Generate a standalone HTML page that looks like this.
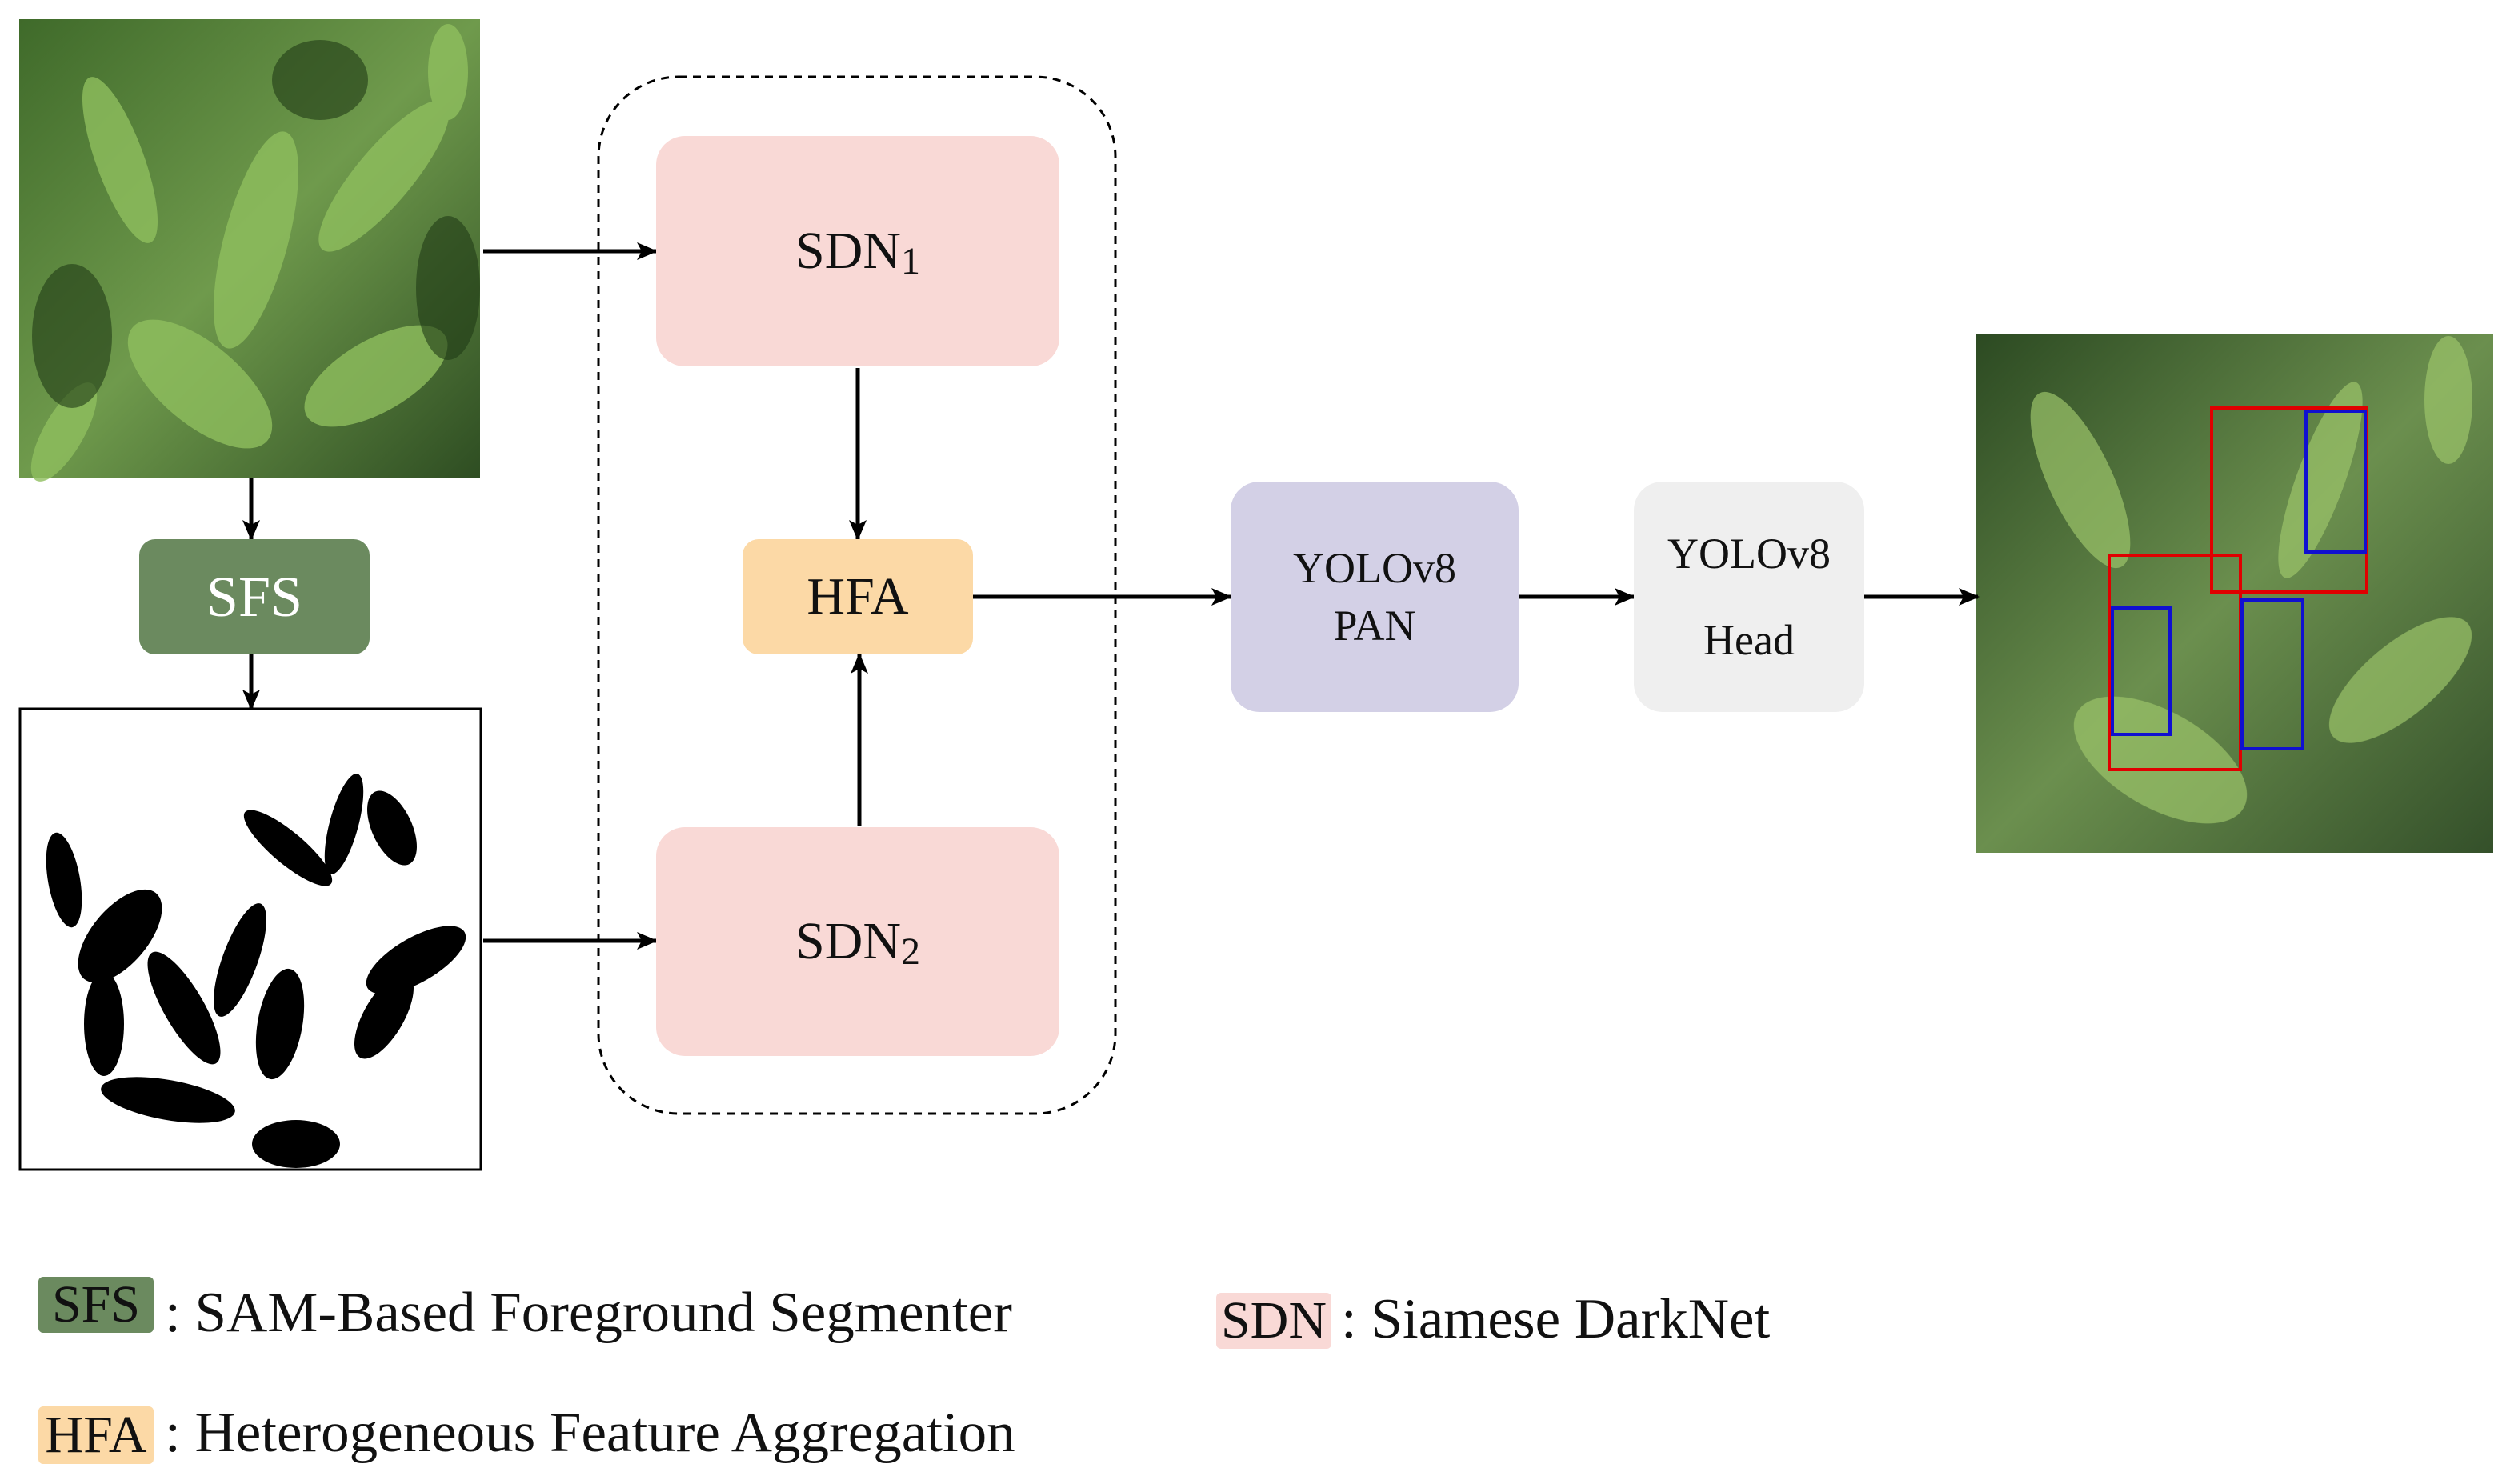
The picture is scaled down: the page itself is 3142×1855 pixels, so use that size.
<!DOCTYPE html>
<html><head><meta charset="utf-8"><style>
html,body{margin:0;padding:0;background:#fff;}
body{width:3142px;height:1855px;position:relative;overflow:hidden;font-family:"Liberation Serif",serif;}
.b{position:absolute;display:flex;align-items:center;justify-content:center;text-align:center;color:#111;}
.t{position:absolute;font-size:71px;color:#111;white-space:nowrap;line-height:1;}
</style></head><body>
<svg width="3142" height="1855" style="position:absolute;left:0;top:0">
<defs>
<marker id="a" markerWidth="26" markerHeight="22" refX="24" refY="11" orient="auto" markerUnits="userSpaceOnUse" viewBox="0 0 26 22"><path d="M0,0 L26,11 L0,22 L6,11z" fill="#000"/></marker>
<linearGradient id="g1" x1="0" y1="0" x2="1" y2="1"><stop offset="0" stop-color="#3f6a2a"/><stop offset="0.5" stop-color="#6f9a4c"/><stop offset="1" stop-color="#2e4d22"/></linearGradient>
<linearGradient id="g2" x1="0" y1="0" x2="1" y2="1"><stop offset="0" stop-color="#2c4a22"/><stop offset="0.5" stop-color="#6b8f4e"/><stop offset="1" stop-color="#34502a"/></linearGradient>
</defs>
<rect x="24" y="24" width="576" height="574" fill="url(#g1)"/>
<g fill="#8fbf5e" opacity="0.8">
<ellipse cx="150" cy="200" rx="30" ry="110" transform="rotate(-20 150 200)"/>
<ellipse cx="320" cy="300" rx="40" ry="140" transform="rotate(15 320 300)"/>
<ellipse cx="480" cy="220" rx="35" ry="120" transform="rotate(40 480 220)"/>
<ellipse cx="250" cy="480" rx="50" ry="110" transform="rotate(-50 250 480)"/>
<ellipse cx="470" cy="470" rx="45" ry="100" transform="rotate(60 470 470)"/>
<ellipse cx="80" cy="540" rx="25" ry="70" transform="rotate(30 80 540)"/>
<ellipse cx="560" cy="90" rx="25" ry="60"/>
</g>
<g fill="#1f3a16" opacity="0.6">
<ellipse cx="90" cy="420" rx="50" ry="90"/><ellipse cx="400" cy="100" rx="60" ry="50"/><ellipse cx="560" cy="360" rx="40" ry="90"/>
</g>
<rect x="25" y="886" width="576" height="576" fill="#fff" stroke="#000" stroke-width="3"/>
<g fill="#000">
<ellipse cx="80" cy="1100" rx="20" ry="60" transform="rotate(-10 80 1100)"/>
<ellipse cx="150" cy="1170" rx="35" ry="70" transform="rotate(40 150 1170)"/>
<ellipse cx="130" cy="1280" rx="25" ry="65"/>
<ellipse cx="230" cy="1260" rx="25" ry="80" transform="rotate(-30 230 1260)"/>
<ellipse cx="210" cy="1375" rx="85" ry="25" transform="rotate(10 210 1375)"/>
<ellipse cx="300" cy="1200" rx="22" ry="75" transform="rotate(20 300 1200)"/>
<ellipse cx="350" cy="1280" rx="28" ry="70" transform="rotate(10 350 1280)"/>
<ellipse cx="370" cy="1430" rx="55" ry="30"/>
<ellipse cx="360" cy="1060" rx="20" ry="70" transform="rotate(-50 360 1060)"/>
<ellipse cx="430" cy="1030" rx="18" ry="65" transform="rotate(15 430 1030)"/>
<ellipse cx="490" cy="1035" rx="25" ry="50" transform="rotate(-25 490 1035)"/>
<ellipse cx="520" cy="1200" rx="70" ry="28" transform="rotate(-30 520 1200)"/>
<ellipse cx="480" cy="1270" rx="25" ry="60" transform="rotate(30 480 1270)"/>
</g>
<rect x="2470" y="418" width="646" height="648" fill="url(#g2)"/>
<g fill="#9cc46a" opacity="0.7">
<ellipse cx="2600" cy="600" rx="40" ry="120" transform="rotate(-25 2600 600)"/>
<ellipse cx="2900" cy="600" rx="30" ry="130" transform="rotate(20 2900 600)"/>
<ellipse cx="2700" cy="950" rx="60" ry="120" transform="rotate(-60 2700 950)"/>
<ellipse cx="3000" cy="850" rx="45" ry="110" transform="rotate(50 3000 850)"/>
<ellipse cx="3060" cy="500" rx="30" ry="80"/>
</g>
<g fill="none" stroke-width="4">
<rect x="2764" y="510" width="194" height="230" stroke="#e00000"/>
<rect x="2882" y="514" width="74" height="176" stroke="#1010d0"/>
<rect x="2636" y="694" width="164" height="268" stroke="#e00000"/>
<rect x="2640" y="760" width="72" height="158" stroke="#1010d0"/>
<rect x="2802" y="750" width="76" height="186" stroke="#1010d0"/>
</g>
<rect x="748" y="96" width="646" height="1296" rx="100" fill="none" stroke="#000" stroke-width="3" stroke-dasharray="10,8"/>
<g stroke="#000" stroke-width="5" fill="none" marker-end="url(#a)">
<line x1="604" y1="314" x2="820" y2="314"/>
<line x1="604" y1="1176" x2="820" y2="1176"/>
<line x1="1072" y1="460" x2="1072" y2="674"/>
<line x1="1074" y1="1032" x2="1074" y2="818"/>
<line x1="1216" y1="746" x2="1538" y2="746"/>
<line x1="1898" y1="746" x2="2042" y2="746"/>
<line x1="2330" y1="746" x2="2472" y2="746"/>
<line x1="314" y1="598" x2="314" y2="674"/>
<line x1="314" y1="818" x2="314" y2="886"/>
</g>
</svg>
<div class="b" style="left:820px;top:170px;width:504px;height:288px;background:#f9d9d6;border-radius:36px;font-size:66px;">SDN<sub style="font-size:48px;position:relative;top:12px;vertical-align:baseline">1</sub></div>
<div class="b" style="left:820px;top:1034px;width:504px;height:286px;background:#f9d9d6;border-radius:36px;font-size:66px;">SDN<sub style="font-size:48px;position:relative;top:12px;vertical-align:baseline">2</sub></div>
<div class="b" style="left:928px;top:674px;width:288px;height:144px;background:#fcd9a6;border-radius:20px;font-size:66px;">HFA</div>
<div class="b" style="left:174px;top:674px;width:288px;height:144px;background:#6b8a5f;border-radius:20px;font-size:72px;color:#fff;">SFS</div>
<div class="b" style="left:1538px;top:602px;width:360px;height:288px;background:#d3d0e6;border-radius:36px;font-size:54px;line-height:72px;">YOLOv8<br>PAN</div>
<div class="b" style="left:2042px;top:602px;width:288px;height:288px;background:#efefef;border-radius:36px;font-size:54px;line-height:108px;">YOLOv8<br>Head</div>
<div class="b" style="left:48px;top:1596px;width:144px;height:70px;background:#6b8a5f;border-radius:6px;font-size:66px;">SFS</div>
<div class="t" style="left:206px;top:1606px;">: SAM-Based Foreground Segmenter</div>
<div class="b" style="left:48px;top:1758px;width:144px;height:72px;background:#fcd9a6;border-radius:6px;font-size:66px;">HFA</div>
<div class="t" style="left:206px;top:1756px;">: Heterogeneous Feature Aggregation</div>
<div class="b" style="left:1520px;top:1616px;width:144px;height:70px;background:#f9d9d6;border-radius:6px;font-size:66px;">SDN</div>
<div class="t" style="left:1676px;top:1614px;">: Siamese DarkNet</div>
</body></html>
